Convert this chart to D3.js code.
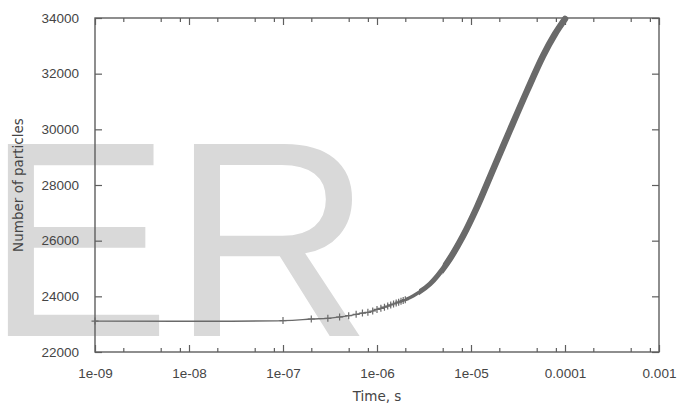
<!DOCTYPE html>
<html>
<head>
<meta charset="utf-8">
<script src="https://cdn.jsdelivr.net/npm/d3@7"></script>
<style>
  body { margin: 0; background: #fff; }
  svg { display: block; }
</style>
</head>
<body>
<script>
'use strict';

// x tick labels (log scale, seconds)
const xTickValues = [1e-9, 1e-8, 1e-7, 1e-6, 1e-5, 1e-4, 1e-3];
const xTickLabels = ['1e-09', '1e-08', '1e-07', '1e-06', '1e-05', '0.0001', '0.001'];
const yTickValues = [22000, 24000, 26000, 28000, 30000, 32000, 34000];

// individual data points, markers clearly separated
const markerTimes = [1e-9, 1e-7, 2e-7, 3e-7, 4e-7, 5e-7, 6e-7, 7e-7, 8e-7, 9e-7,
  1.0e-6, 1.1e-6, 1.2e-6, 1.3e-6, 1.4e-6, 1.5e-6, 1.6e-6, 1.7e-6, 1.8e-6, 1.9e-6, 2.0e-6];
const markerCounts = [23110, 23130, 23185, 23210, 23258, 23305, 23355, 23400, 23426, 23473,
  23530, 23570, 23610, 23650, 23690, 23725, 23760, 23790, 23820, 23850, 23880];

// dense part of the series, markers merge into a solid band
const bandTimes = [2.0e-6, 2.42e-6, 3.66e-6, 5.56e-6, 8.22e-6, 1.16e-5, 1.71e-5, 2.6e-5, 3.94e-5, 5.83e-5, 7.83e-5, 1e-4];
const bandCounts = [23880, 24012, 24443, 25198, 26168, 27210, 28539, 29976, 31377, 32635, 33425, 33964];

const width = 681, height = 403;
const margin = { left: 95, right: 22, top: 18, bottom: 51 };

const svg = d3.select('body').append('svg')
  .attr('width', width)
  .attr('height', height)
  .style('font-family', '"DejaVu Sans", sans-serif');

// watermark behind everything
svg.append('text')
  .attr('x', -15)
  .attr('y', 336)
  .style('font-family', '"Liberation Sans", Arial, sans-serif')
  .style('font-size', '279px')
  .attr('fill', '#d9d9d9')
  .text('ER');

const x = d3.scaleLog()
  .domain([1e-9, 1e-3])
  .range([margin.left, width - margin.right]);

const y = d3.scaleLinear()
  .domain([22000, 34000])
  .range([height - margin.bottom, margin.top]);

const axisColor = '#5e5e5e';
const textColor = '#454545';

// minor ticks at 2, 5, 8 of each decade
let minorTicks = [];
for (let e = -9; e < -3; e++) {
  [2, 5, 8].forEach(m => minorTicks.push(m * Math.pow(10, e)));
}

function styleAxis(g) {
  g.select('.domain').remove();
  g.selectAll('line').attr('stroke', axisColor).attr('stroke-width', 1.2);
  g.selectAll('text').attr('fill', textColor).style('font-size', '13.5px');
}

const yBottom = height - margin.bottom;
const xRight = width - margin.right;

// bottom axis
svg.append('g')
  .attr('transform', `translate(0, ${yBottom})`)
  .call(d3.axisBottom(x).tickValues(xTickValues).tickSize(-7).tickPadding(16)
    .tickFormat((d, i) => xTickLabels[i]))
  .call(styleAxis);
svg.append('g')
  .attr('transform', `translate(0, ${yBottom})`)
  .call(d3.axisBottom(x).tickValues(minorTicks).tickSize(-4).tickFormat(''))
  .call(styleAxis);

// top axis (mirror)
svg.append('g')
  .attr('transform', `translate(0, ${margin.top})`)
  .call(d3.axisTop(x).tickValues(xTickValues).tickSize(-7).tickFormat(''))
  .call(styleAxis);
svg.append('g')
  .attr('transform', `translate(0, ${margin.top})`)
  .call(d3.axisTop(x).tickValues(minorTicks).tickSize(-4).tickFormat(''))
  .call(styleAxis);

// left axis
svg.append('g')
  .attr('transform', `translate(${margin.left}, 0)`)
  .call(d3.axisLeft(y).tickValues(yTickValues).tickSize(-7).tickPadding(16)
    .tickFormat(d3.format('d')))
  .call(styleAxis);

// right axis (mirror)
svg.append('g')
  .attr('transform', `translate(${xRight}, 0)`)
  .call(d3.axisRight(y).tickValues(yTickValues).tickSize(-7).tickFormat(''))
  .call(styleAxis);

// frame
svg.append('rect')
  .attr('x', margin.left)
  .attr('y', margin.top)
  .attr('width', xRight - margin.left)
  .attr('height', yBottom - margin.top)
  .attr('fill', 'none')
  .attr('stroke', axisColor)
  .attr('stroke-width', 1.4);

// axis titles
svg.append('text')
  .attr('x', (margin.left + xRight) / 2)
  .attr('y', 401)
  .attr('text-anchor', 'middle')
  .attr('fill', textColor)
  .style('font-size', '13.5px')
  .text('Time, s');

svg.append('text')
  .attr('transform', `translate(22.5, ${(margin.top + yBottom) / 2}) rotate(-90)`)
  .attr('text-anchor', 'middle')
  .attr('fill', textColor)
  .style('font-size', '13.5px')
  .text('Number of particles');

// data
const markerData = markerTimes.map((t, i) => ({ t: t, n: markerCounts[i] }));
const bandData = bandTimes.map((t, i) => ({ t: t, n: bandCounts[i] }));

const line = d3.line()
  .x(d => x(d.t))
  .y(d => y(d.n))
  .curve(d3.curveCatmullRom.alpha(0.5));

const lineColor = '#6a6a6a';

svg.append('path')
  .datum(markerData.concat(bandData.slice(1)))
  .attr('d', line)
  .attr('fill', 'none')
  .attr('stroke', lineColor)
  .attr('stroke-width', 1.3);

// merged markers: band widens as the points get denser (clipped by time)
const defs = svg.append('defs');
[[2.0e-6, 3.5], [2.8e-6, 5], [5.0e-6, 6.5]].forEach(([from, w], i) => {
  defs.append('clipPath')
    .attr('id', 'band' + i)
    .append('rect')
    .attr('x', x(from))
    .attr('y', 0)
    .attr('width', width - x(from))
    .attr('height', height);
  svg.append('path')
    .datum(bandData)
    .attr('d', line)
    .attr('clip-path', `url(#band${i})`)
    .attr('fill', 'none')
    .attr('stroke', lineColor)
    .attr('stroke-linecap', 'round')
    .attr('stroke-width', w);
});

// '+' markers
const arm = 3.5;
svg.selectAll('.mark')
  .data(markerData)
  .enter()
  .append('path')
  .attr('class', 'mark')
  .attr('d', d => {
    const cx = x(d.t), cy = y(d.n);
    return `M${cx - arm},${cy}H${cx + arm}M${cx},${cy - arm}V${cy + arm}`;
  })
  .attr('stroke', lineColor)
  .attr('stroke-width', 1.2)
  .attr('fill', 'none');
</script>
</body>
</html>
